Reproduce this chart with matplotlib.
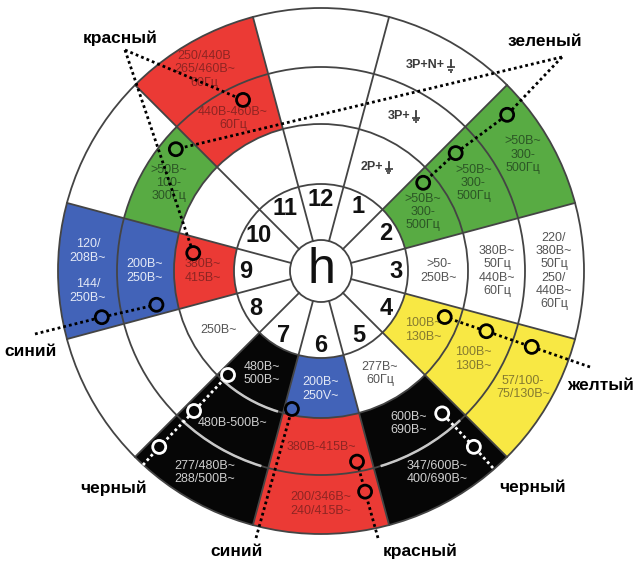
import numpy as np
import matplotlib.pyplot as plt
from matplotlib.patches import Wedge, Circle, Arc

plt.rcParams['font.family'] = ['Liberation Sans', 'DejaVu Sans']

W, H = 638, 567
cx, cy = 321, H - 271

# clock positions 1..12, rings counted from the number ring outwards
hours = list(range(1, 13))
radii = [31, 87, 147, 204, 263]

ring1_colors = ['w', 'g', 'w', 'y', 'w', 'b', 'k', 'w', 'r', 'w', 'w', 'w']
ring2_colors = ['w', 'g', 'w', 'y', 'k', 'r', 'k', 'w', 'b', 'g', 'r', 'w']
ring3_colors = ['w', 'g', 'w', 'y', 'k', 'r', 'k', 'w', 'b', 'w', 'r', 'w']

# '⏚' has no glyph in any installed font, it is drawn as a small shape
ring1_text = ['2P+⏚', '>50В~\n300-\n500Гц', '>50-\n250В~', '100В~\n130В~',
              '277В~\n60Гц', '200В~\n250V~', '480В~\n500В~', '250В~',
              '380В~\n415В~', '', '', '']
ring2_text = ['3P+⏚', '>50В~\n300-\n500Гц', '380В~\n50Гц\n440В~\n60Гц',
              '100В~\n130В~', '600В~\n690В~', '380В-415В~', '480В-500В~', '',
              '200В~\n250В~', '>50В~\n100-\n300Гц', '440В-460В~\n60Гц', '']
ring3_text = ['3P+N+⏚', '>50В~\n300-\n500Гц',
              '220/\n380В~\n50Гц\n250/\n440В~\n60Гц', '57/100-\n75/130В~',
              '347/600В~\n400/690В~', '200/346В~\n240/415В~',
              '277/480В~\n288/500В~', '', '120/\n208В~\n\n144/\n250В~', '',
              '250/440В\n265/460В~\n60Гц', '']

# callouts: name, label position (px), line start (px), circles (angle, radius)
callout_names = ['красный', 'зеленый', 'синий', 'желтый',
                 'черный', 'черный', 'синий', 'красный']
callout_label_xy = [(120, 38), (545, 42), (31, 352), (601, 385),
                    (114, 488), (533, 487), (237, 551), (420, 551)]
callout_anchor = [(125, 50), (562, 57), (35, 334), (590, 367),
                  (143, 465), (493, 468), (256, 538), (378, 538)]
callout_targets = [
    [[(114.5, 188)], [(172, 129)]],
    [[(40, 243), (41.2, 179), (40.8, 135)], [(140, 189.5)]],
    [[(191.9, 224), (191.6, 168)]],
    [[(-19.8, 224), (-20, 176), (-20.4, 132)]],
    [[(-132.6, 239), (-132.2, 189), (-131.8, 139.5)]],
    [[(-49, 233), (-49.6, 187)]],
    [[(-101.9, 141)]],
    [[(-78.7, 225), (-79.3, 194)]],
]
callout_color = ['black', 'black', 'black', 'black', 'white', 'white', 'black', 'black']

fill = {'w': 'white', 'r': '#eb3a35', 'g': '#58ab43', 'b': '#4263b8',
        'y': '#f8e844', 'k': '#060606'}
ink = {'w': '#555555', 'r': '#8e2523', 'g': '#2c5626', 'b': '#e4e9f6',
       'y': '#857a30', 'k': '#cfcfcf'}

rings = [ring1_colors, ring2_colors, ring3_colors]
texts = [ring1_text, ring2_text, ring3_text]
text_r = [118, 176, 233]


def hour_angle(h):
    return 90 - 30 * h


def pol(a, r):
    t = np.radians(a)
    return cx + r * np.cos(t), cy + r * np.sin(t)


def color_at(a, r):
    h = int(round((90 - a) / 30)) % 12
    h = 12 if h == 0 else h
    for i in range(3):
        if radii[i + 1] <= r < radii[i + 2]:
            return fill[rings[i][h - 1]]
    return 'white'


fig = plt.figure(figsize=(W / 100, H / 100), dpi=100)
ax = fig.add_axes([0, 0, 1, 1])
ax.set_xlim(0, W)
ax.set_ylim(0, H)
ax.set_aspect('equal')
ax.axis('off')
renderer = fig.canvas.get_renderer()

# coloured sectors
for i in range(3):
    for h, c in zip(hours, rings[i]):
        a = hour_angle(h)
        ax.add_patch(Wedge((cx, cy), radii[i + 2], a - 15, a + 15,
                           width=radii[i + 2] - radii[i + 1],
                           facecolor=fill[c], edgecolor='none'))

# ring lines
for r in radii:
    ax.add_patch(Circle((cx, cy), r, fill=False, edgecolor='#444444', lw=1.3))
for h in hours:
    a = hour_angle(h) + 15
    x0, y0 = pol(a, radii[0])
    x1, y1 = pol(a, radii[-1])
    ax.plot([x0, x1], [y0, y1], color='#444444', lw=1.3)

# light arcs drawn over black sectors
for h, r in [(7, 147), (7, 204), (5, 204)]:
    a = hour_angle(h)
    ax.add_patch(Arc((cx, cy), 2 * r, 2 * r, theta1=a - 13, theta2=a + 13,
                     color='#c8c8c8', lw=1.8))


def earth_text(x, y, t, col):
    base = t.replace('⏚', '')
    txt = ax.text(x, y, base, ha='left', va='center', fontsize=9,
                  fontweight='bold', color=col)
    w = txt.get_window_extent(renderer).width
    sym_w = 8
    x0 = x - (w + 2 + sym_w) / 2
    txt.set_x(x0)
    sx = x0 + w + 2 + sym_w / 2
    ax.plot([sx, sx], [y + 5, y - 2], color=col, lw=1.3)
    for dy, hw in [(-2, 4), (-4.3, 2.6), (-6.6, 1.2)]:
        ax.plot([sx - hw, sx + hw], [y + dy, y + dy], color=col, lw=1.2,
                solid_capstyle='butt')


# sector text
for i in range(3):
    for h, c, t in zip(hours, rings[i], texts[i]):
        if not t:
            continue
        x, y = pol(hour_angle(h) + (2 if '⏚' in t else 0), text_r[i])
        if '⏚' in t:
            earth_text(x, y, t, '#3a3a3a')
        else:
            ax.text(x, y, t, ha='center', va='center', fontsize=9,
                    color=ink[c], linespacing=1.15)

# clock numbers and centre
for h in hours:
    x, y = pol(hour_angle(h), 72 if h >= 10 else 75)
    ax.text(x, y, str(h), ha='center', va='center', fontsize=17,
            fontweight='bold', color='#111111')
ax.text(cx, cy + 1, 'h', ha='center', va='center', fontsize=36, color='#111111')

# callouts: dotted line from the label through its circles
for name, lxy, anc, groups, col in zip(callout_names, callout_label_xy,
                                       callout_anchor, callout_targets,
                                       callout_color):
    ax_, ay_ = anc[0], H - anc[1]
    for g in groups:
        pts = sorted(g, key=lambda p: np.hypot(pol(*p)[0] - ax_, pol(*p)[1] - ay_))
        xs = [ax_] + [pol(a, r)[0] for a, r in pts]
        ys = [ay_] + [pol(a, r)[1] for a, r in pts]
        ax.plot(xs, ys, color=col, lw=2, linestyle=(0, (1, 1.1)),
                dash_capstyle='butt', zorder=5)
        for a, r in pts:
            ax.add_patch(Circle(pol(a, r), 6.5, facecolor=color_at(a, r),
                                edgecolor=col, lw=2, zorder=6))
    ax.text(lxy[0], H - lxy[1], name, ha='center', va='center',
            fontsize=12.5, fontweight='bold', color='black')

fig.savefig('out.png', dpi=100)
